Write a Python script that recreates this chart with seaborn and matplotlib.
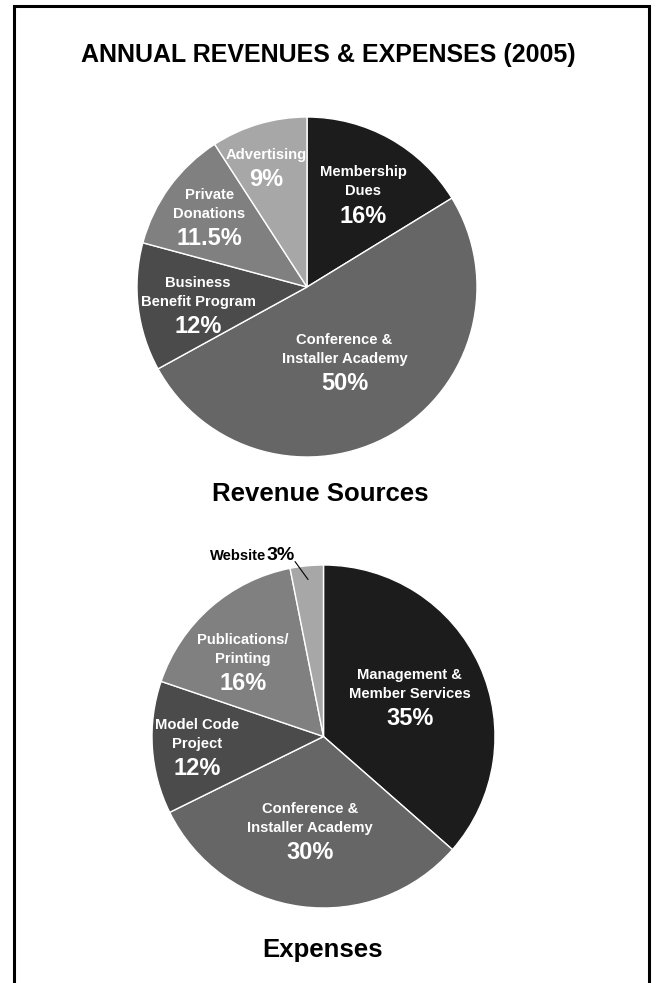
import numpy as np
import matplotlib
matplotlib.use("Agg")
import matplotlib.pyplot as plt
import seaborn as sns
from matplotlib import font_manager as fm
from matplotlib.lines import Line2D

# ── data ──
TITLE = "ANNUAL REVENUES & EXPENSES (2005)"

REV_TITLE = "Revenue Sources"
REV_NAMES = ["Membership\nDues", "Conference &\nInstaller Academy",
             "Business\nBenefit Program", "Private\nDonations", "Advertising"]
REV_VALUES = [16, 50, 12, 11.5, 9]
REV_PCT = ["16%", "50%", "12%", "11.5%", "9%"]

EXP_TITLE = "Expenses"
EXP_NAMES = ["Management &\nMember Services", "Conference &\nInstaller Academy",
             "Model Code\nProject", "Publications/\nPrinting", "Website"]
EXP_VALUES = [35, 30, 12, 16, 3]
EXP_PCT = ["35%", "30%", "12%", "16%", "3%"]

GREYS = ["#1c1c1c", "#666666", "#4b4b4b", "#808080", "#a7a7a7"]

# label anchors (in pie-radius units), None = outside label
REV_LABEL_XY = [(0.33, 0.50), (0.22, -0.485), (-0.64, -0.15), (-0.576, 0.368), (-0.241, 0.715)]
EXP_LABEL_XY = [(0.504, 0.187), (-0.079, -0.595), (-0.738, -0.105), (-0.469, 0.391), None]

W, H, DPI = 660, 983, 100


def pick_font(names):
    for n in names:
        try:
            fm.findfont(fm.FontProperties(family=n), fallback_to_default=False)
            return n
        except ValueError:
            pass
    return "DejaVu Sans"


sns.set_theme(style="white")
BASE = pick_font(["Liberation Sans", "Arial", "DejaVu Sans"])
plt.rcParams["font.family"] = [BASE, "DejaVu Sans"]
plt.rcParams["text.color"] = "black"

NAME_SIZE = 10.6
PCT_SIZE = 17


def pie_axes(fig, cx, cy, r):
    # axes box in pixel units -> figure fraction
    return fig.add_axes([(cx - r) / W, 1 - (cy + r) / H, 2 * r / W, 2 * r / H])


def draw_pie(ax, values, names, pcts, label_xy):
    wedges, _ = ax.pie(values, colors=GREYS, startangle=90, counterclock=False,
                       radius=1, wedgeprops=dict(edgecolor="white", linewidth=1.0))
    ax.set_xlim(-1, 1)
    ax.set_ylim(-1, 1)
    ax.set_aspect("equal")
    ax.axis("off")
    for name, pct, xy in zip(names, pcts, label_xy):
        if xy is None:
            continue
        ax.text(xy[0], xy[1] + 0.022, name, ha="center", va="bottom", color="white",
                fontsize=NAME_SIZE, fontweight="bold", linespacing=1.45)
        ax.text(xy[0], xy[1] - 0.015, pct, ha="center", va="top", color="white",
                fontsize=PCT_SIZE, fontweight="bold")
    return wedges


fig = plt.figure(figsize=(W / DPI, H / DPI), dpi=DPI)
fig.patch.set_facecolor("white")

# frame (open at the bottom)
fig.add_artist(Line2D([14 / W, 14 / W, 649 / W, 649 / W], [-0.01, 1 - 6 / H, 1 - 6 / H, -0.01],
                      transform=fig.transFigure, color="black", lw=2.2, solid_joinstyle="miter"))

fig.text(328 / W, 1 - 55 / H, TITLE, ha="center", va="center", fontsize=18, fontweight="bold")

ax1 = pie_axes(fig, 307, 287, 170)
draw_pie(ax1, REV_VALUES, REV_NAMES, REV_PCT, REV_LABEL_XY)
fig.text(320 / W, 1 - 494 / H, REV_TITLE, ha="center", va="center", fontsize=18.5, fontweight="bold")

ax2 = pie_axes(fig, 323.5, 736.5, 171.5)
wedges = draw_pie(ax2, EXP_VALUES, EXP_NAMES, EXP_PCT, EXP_LABEL_XY)
fig.text(323 / W, 1 - 950 / H, EXP_TITLE, ha="center", va="center", fontsize=18.5, fontweight="bold")

# outside label for the small slice
w = wedges[-1]
ang = np.deg2rad((w.theta1 + w.theta2) / 2)
tip = (0.92 * np.cos(ang), 0.92 * np.sin(ang))
ax2.annotate("", xy=tip, xytext=(-0.166, 1.02),
             arrowprops=dict(arrowstyle="-", color="black", lw=0.8, shrinkA=0, shrinkB=0),
             annotation_clip=False)
ax2.text(-0.166, 1.03, EXP_PCT[-1], ha="right", va="baseline", fontsize=14,
         fontweight="bold", clip_on=False)
ax2.text(-0.335, 1.03, EXP_NAMES[-1], ha="right", va="baseline", fontsize=NAME_SIZE,
         fontweight="bold", clip_on=False)

fig.savefig("out.png", dpi=DPI, facecolor="white")
